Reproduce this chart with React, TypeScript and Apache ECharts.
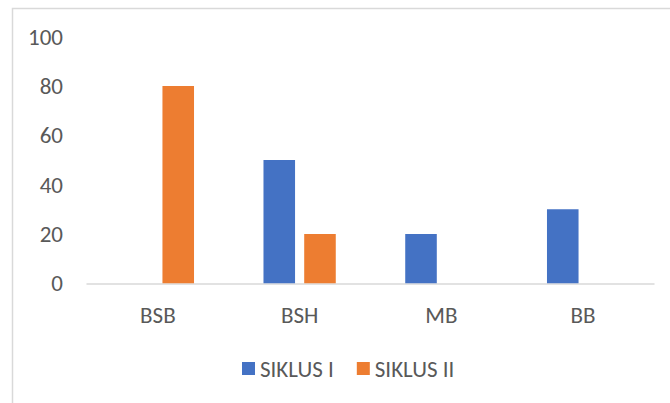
import React, { useEffect, useRef } from "react";
import * as echarts from "echarts";

const categories = ["BSB", "BSH", "MB", "BB"];
const siklus1 = [0, 50, 20, 30];
const siklus2 = [80, 20, 0, 0];
const seriesNames = ["SIKLUS I", "SIKLUS II"];

export default function App() {
  const ref = useRef<HTMLDivElement>(null);
  useEffect(() => {
    if (!ref.current) return;
    const chart = echarts.init(ref.current, null, { renderer: "svg" });
    const font = "Carlito, 'Open Sans', 'Liberation Sans', sans-serif";
    chart.setOption({
      animation: false,
      backgroundColor: "#ffffff",
      textStyle: { fontFamily: font },
      graphic: [
        {
          type: "rect",
          left: 10,
          top: 6,
          shape: { x: 0, y: 0, width: 700, height: 430 },
          style: { fill: "none", stroke: "#d9d9d9", lineWidth: 1.5 },
          silent: true,
        },
      ],
      grid: { left: 87, right: 16, top: 36.7, bottom: 119.7 },
      legend: {
        data: seriesNames,
        top: 357,
        left: 242,
        padding: 0,
        itemWidth: 13,
        itemHeight: 13,
        itemGap: 23,
        icon: "rect",
        textStyle: { fontSize: 23, color: "#595959", fontFamily: font },
      },
      xAxis: {
        type: "category",
        data: categories,
        axisLine: { lineStyle: { color: "#d9d9d9", width: 1.5 } },
        axisTick: { show: false },
        axisLabel: { fontSize: 23, color: "#595959", margin: 20, fontFamily: font },
      },
      yAxis: {
        type: "value",
        min: 0,
        max: 100,
        interval: 20,
        axisLine: { show: false },
        axisTick: { show: false },
        splitLine: { show: false },
        axisLabel: { fontSize: 23, color: "#595959", margin: 24, fontFamily: font },
      },
      series: [
        {
          name: seriesNames[0],
          type: "bar",
          data: siklus1,
          itemStyle: { color: "#4472C4" },
          barGap: "29%",
          barCategoryGap: "49%",
        },
        {
          name: seriesNames[1],
          type: "bar",
          data: siklus2,
          itemStyle: { color: "#ED7D31" },
          barGap: "29%",
          barCategoryGap: "49%",
        },
      ],
    });
    return () => chart.dispose();
  }, []);
  return (
    <div
      ref={ref}
      style={{ position: "fixed", left: 0, top: 0, width: 670, height: 403 }}
    />
  );
}
